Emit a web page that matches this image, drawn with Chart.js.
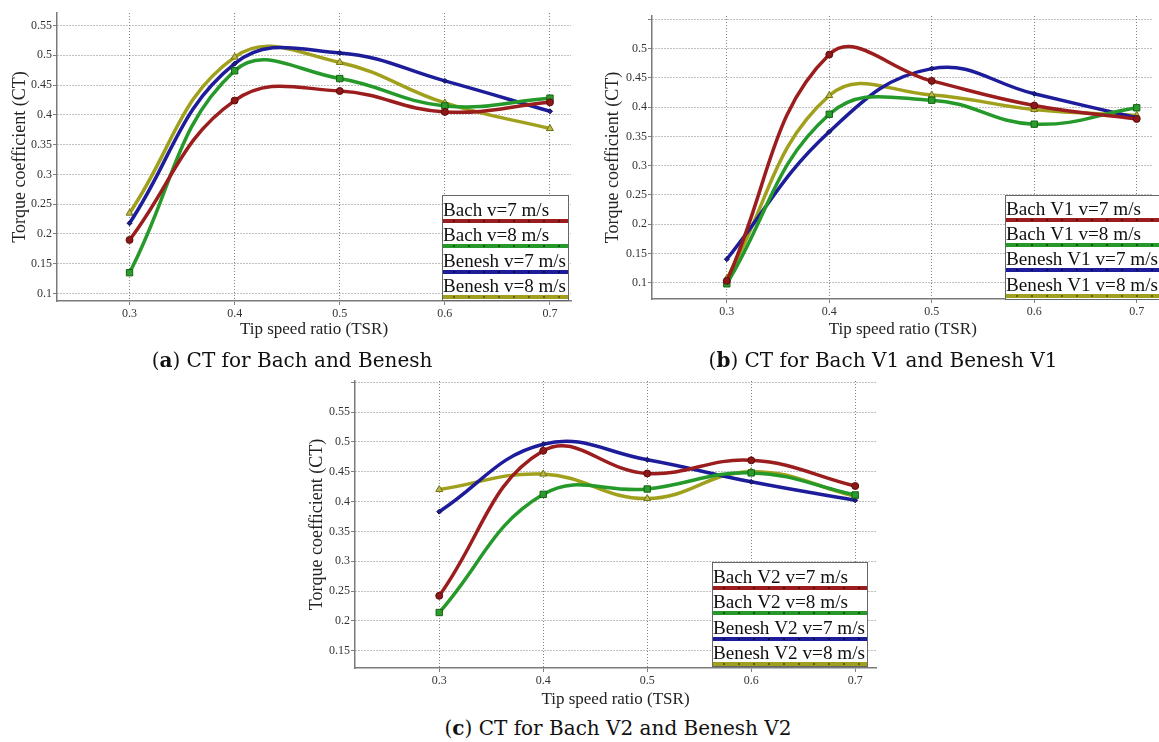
<!DOCTYPE html>
<html>
<head>
<meta charset="utf-8">
<script src="https://cdn.jsdelivr.net/npm/chart.js@4/dist/chart.umd.min.js"></script>
<style>
html,body{margin:0;padding:0;background:#fff;overflow:hidden;width:1159px;height:742px;}
canvas{position:absolute;}
.cap{position:absolute;font-family:"DejaVu Serif",serif;font-size:20px;color:#111;white-space:nowrap;transform:translate(-50%,-50%);}
</style>
</head>
<body>
<canvas id="ca" width="580" height="340" style="left:0px;top:0px"></canvas>
<canvas id="cb" width="579" height="340" style="left:580px;top:0px"></canvas>
<canvas id="cc" width="600" height="345" style="left:290px;top:370px"></canvas>
<div class="cap" style="left:292px;top:360px">(<b>a</b>) CT for Bach and Benesh</div>
<div class="cap" style="left:883px;top:360px">(<b>b</b>) CT for Bach V1 and Benesh V1</div>
<div class="cap" style="left:618px;top:728px">(<b>c</b>) CT for Bach V2 and Benesh V2</div>
<script>
// ---------- data ----------
const tsr = [0.3, 0.4, 0.5, 0.6, 0.7];
const xTickLabels = ['0.3', '0.4', '0.5', '0.6', '0.7'];

// (a) Bach and Benesh
const labelsA = ['Bach v=7 m/s', 'Bach v=8 m/s', 'Benesh v=7 m/s', 'Benesh v=8 m/s'];
const bach7A   = [0.190, 0.424, 0.440, 0.405, 0.421];
const bach8A   = [0.135, 0.474, 0.461, 0.415, 0.428];
const benesh7A = [0.218, 0.486, 0.504, 0.457, 0.406];
const benesh8A = [0.235, 0.497, 0.488, 0.420, 0.377];
const yTicksA = [0.1, 0.15, 0.2, 0.25, 0.3, 0.35, 0.4, 0.45, 0.5, 0.55];
const yTickLabelsA = ['0.1', '0.15', '0.2', '0.25', '0.3', '0.35', '0.4', '0.45', '0.5', '0.55'];

// (b) Bach V1 and Benesh V1
const labelsB = ['Bach V1 v=7 m/s', 'Bach V1 v=8 m/s', 'Benesh V1 v=7 m/s', 'Benesh V1 v=8 m/s'];
const bach7B   = [0.103, 0.490, 0.445, 0.403, 0.380];
const bach8B   = [0.098, 0.388, 0.412, 0.371, 0.399];
const benesh7B = [0.140, 0.358, 0.466, 0.423, 0.382];
const benesh8B = [0.107, 0.420, 0.421, 0.396, 0.386];
const yTicksB = [0.1, 0.15, 0.2, 0.25, 0.3, 0.35, 0.4, 0.45, 0.5, 0.55];
const yTickLabelsB = ['0.1', '0.15', '0.2', '0.25', '0.3', '0.35', '0.4', '0.45', '0.5', ''];

// (c) Bach V2 and Benesh V2
const labelsC = ['Bach V2 v=7 m/s', 'Bach V2 v=8 m/s', 'Benesh V2 v=7 m/s', 'Benesh V2 v=8 m/s'];
const bach7C   = [0.242, 0.485, 0.447, 0.469, 0.426];
const bach8C   = [0.214, 0.412, 0.421, 0.448, 0.411];
const benesh7C = [0.383, 0.496, 0.470, 0.433, 0.402];
const benesh8C = [0.420, 0.446, 0.405, 0.450, 0.409];
const yTicksC = [0.15, 0.2, 0.25, 0.3, 0.35, 0.4, 0.45, 0.5, 0.55, 0.6];
const yTickLabelsC = ['0.15', '0.2', '0.25', '0.3', '0.35', '0.4', '0.45', '0.5', '0.55', ''];

// ---------- styles ----------
const styles = [
  {line:'#9b1d1d', fill:'#8c1818', border:'#5e0d0d', point:'circle',   r:3.5, dot:'#5a1010'},
  {line:'#25992a', fill:'#2c9c2c', border:'#176217', point:'rect',     r:4.5, dot:'#125512'},
  {line:'#1d1d9b', fill:'#1d1d8e', border:'#10105a', point:'rectRot',  r:2.5, dot:'#0c0c4a'},
  {line:'#a0a01d', fill:'#b9b94c', border:'#74740f', point:'triangle', r:4,   dot:'#60600a'}
];
const FONT = '"Liberation Serif", "Times New Roman", serif';

const boxLegend = {
  id: 'boxLegend',
  afterDatasetsDraw(chart, args, o) {
    const ctx = chart.ctx;
    ctx.save();
    ctx.fillStyle = '#fff';
    ctx.fillRect(o.x, o.y, o.w, o.h);
    ctx.strokeStyle = '#666';
    ctx.lineWidth = 1;
    ctx.strokeRect(o.x + 0.5, o.y + 0.5, o.w, o.h);
    ctx.font = '18px ' + FONT;
    const maxW = Math.max(...chart.data.datasets.map(ds => ctx.measureText(ds.label).width));
    const sx = o.textW / maxW;
    chart.data.datasets.forEach((ds, i) => {
      const ly = o.lines[i];
      ctx.save();
      ctx.fillStyle = '#111';
      ctx.textBaseline = 'alphabetic';
      ctx.textAlign = 'left';
      ctx.translate(o.x + 1, ly - 5);
      ctx.scale(sx, 1);
      ctx.fillText(ds.label, 0, 0);
      ctx.restore();
      ctx.strokeStyle = ds.borderColor;
      ctx.lineWidth = 4;
      ctx.beginPath();
      ctx.moveTo(o.x + 1, ly);
      ctx.lineTo(o.x + o.w, ly);
      ctx.stroke();
      ctx.fillStyle = styles[i].dot;
      for (let mx = o.x + 12; mx < o.x + o.w - 3; mx += 15) {
        ctx.fillRect(mx - 1, ly - 1, 2, 2);
      }
    });
    ctx.restore();
  }
};

function build(id, g, labels, series, yTicks, yTickLabels, legend) {
  const datasets = series.map((vals, i) => ({
    label: labels[i],
    data: tsr.map((x, j) => ({x: x, y: vals[j]})),
    borderColor: styles[i].line,
    borderWidth: 3.5,
    pointStyle: styles[i].point,
    pointRadius: styles[i].r,
    pointBackgroundColor: styles[i].fill,
    pointBorderColor: styles[i].border,
    pointBorderWidth: 1,
    tension: 0.42,
    fill: false
  }));
  const titleLH = 17 * 1.2;
  const yTitleLH = 18 * 1.2;
  new Chart(document.getElementById(id), {
    type: 'line',
    data: {datasets},
    options: {
      responsive: false,
      animation: false,
      events: [],
      layout: {padding: {top: g.top, right: g.right, left: 0, bottom: 0}},
      plugins: {legend: {display: false}, tooltip: {enabled: false}, boxLegend: legend},
      scales: {
        x: {
          type: 'linear', min: g.xmin, max: g.xmax,
          afterBuildTicks: s => { s.ticks = tsr.map(v => ({value: v})); },
          afterFit: s => { s.height = g.xh; },
          ticks: {callback: (v, i) => xTickLabels[i], font: {family: FONT, size: 12}, color: '#333', padding: 2, maxRotation: 0, autoSkip: false},
          grid: {color: '#808080', lineWidth: 1, tickLength: 4, drawTicks: true},
          border: {display: true, color: '#7a7a7a', width: 1.5, dash: [1, 2]},
          title: {display: true, text: 'Tip speed ratio (TSR)', color: '#222', font: {family: FONT, size: 17}, padding: {top: 0, bottom: g.xtb - titleLH / 2}}
        },
        y: {
          type: 'linear', min: g.ymin, max: g.ymax,
          afterBuildTicks: s => { s.ticks = yTicks.map(v => ({value: v})); },
          afterFit: s => { s.width = g.yw; },
          ticks: {callback: (v, i) => yTickLabels[i], font: {family: FONT, size: 12}, color: '#333', padding: 1, autoSkip: false},
          grid: {color: '#808080', lineWidth: 1, tickLength: 4, drawTicks: true},
          border: {display: true, color: '#7a7a7a', width: 1.5, dash: [1, 2]},
          title: {display: true, text: 'Torque coefficient (CT)', color: '#222', font: {family: FONT, size: 18}, padding: {top: g.ytx - yTitleLH / 2, bottom: 0}}
        }
      }
    },
    plugins: [boxLegend]
  });
}

// (a): canvas 580x340 at (0,0); area left 57, top 13, right 571, bottom 301
build('ca', {top: 13, right: 9, xh: 39, yw: 57, xtb: 10, ytx: 20, xmin: 0.231, xmax: 0.72, ymin: 0.0875, ymax: 0.571},
  labelsA, [bach7A, bach8A, benesh7A, benesh8A], yTicksA, yTickLabelsA,
  {x: 442, y: 195, w: 126, h: 105, textW: 123, lines: [221, 246, 272, 297]});

// (b): canvas 579x340 at (580,0); area left 72, top 16, right 579, bottom 299
build('cb', {top: 16, right: 0, xh: 41, yw: 72, xtb: 10, ytx: 33, xmin: 0.227, xmax: 0.7164, ymin: 0.072, ymax: 0.556},
  labelsB, [bach7B, bach8B, benesh7B, benesh8B], yTicksB, yTickLabelsB,
  {x: 425, y: 195, w: 160, h: 104, textW: 152, lines: [220, 245, 270, 296]});

// (c): canvas 600x345 at (290,370); area left 65, top 11, right 586, bottom 298
build('cc', {top: 11, right: 14, xh: 47, yw: 65, xtb: 15, ytx: 27, xmin: 0.219, xmax: 0.72, ymin: 0.121, ymax: 0.602},
  labelsC, [bach7C, bach8C, benesh7C, benesh8C], yTicksC, yTickLabelsC,
  {x: 422, y: 192, w: 155, h: 104, textW: 152, lines: [218, 243, 269, 294]});
</script>
</body>
</html>
